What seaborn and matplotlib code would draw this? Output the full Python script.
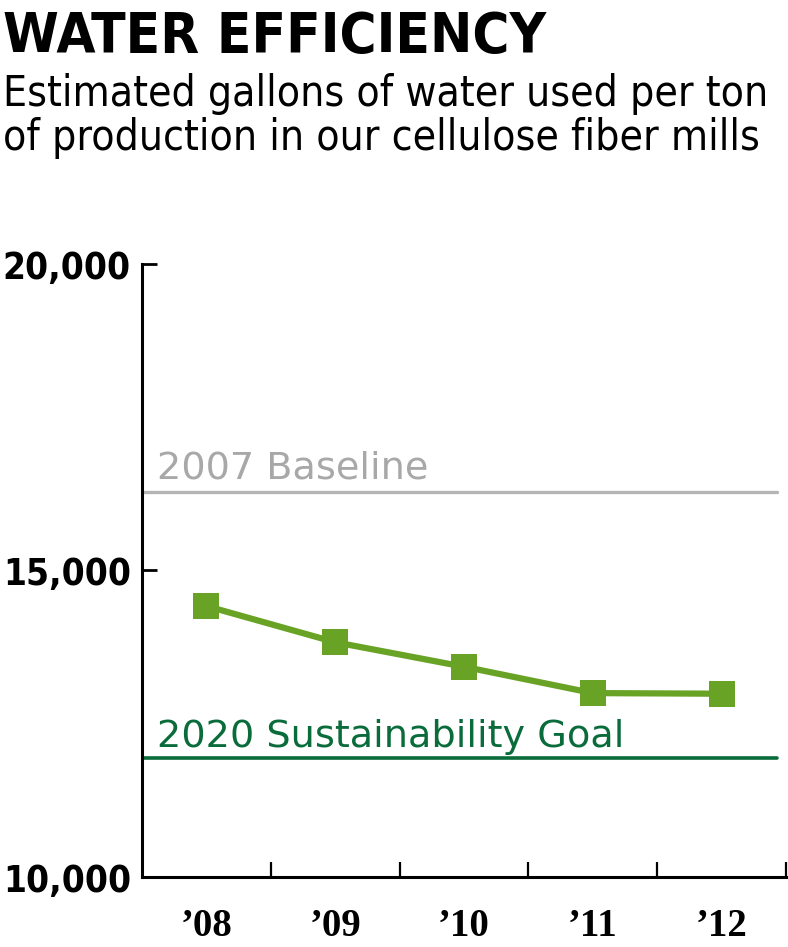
import numpy as np
import pandas as pd
import matplotlib
matplotlib.use("Agg")
import matplotlib.pyplot as plt
import seaborn as sns

# Chart values
years = ["\u201908", "\u201909", "\u201910", "\u201911", "\u201912"]
gallons_per_ton = [14420, 13830, 13430, 13000, 12990]
baseline_2007 = 16280
goal_2020 = 11940
y_ticks = [10000, 15000, 20000]

sns.set_style("white")
plt.rcParams['font.family'] = ['DejaVu Sans']
plt.rcParams['font.stretch'] = 'condensed'
plt.rcParams['text.color'] = 'black'

df = pd.DataFrame({"pos": np.arange(len(years)), "gallons": gallons_per_ton})

fig = plt.figure(figsize=(7.88, 9.47), dpi=100)
ax = fig.add_axes([142 / 788, 70 / 947, 644 / 788, 613 / 947])

green = "#69a325"
dark_green = "#0a6b3b"
grey_line = "#b5b5b5"
grey_text = "#a8a8a8"

sns.lineplot(data=df, x="pos", y="gallons", ax=ax, color=green, linewidth=4.5,
             marker="s", markersize=19, markeredgewidth=0, markerfacecolor=green)

# reference lines
line_end = (777 - 142) / 644
ax.axhline(baseline_2007, xmin=0, xmax=line_end, color=grey_line, linewidth=2.4)
ax.axhline(goal_2020, xmin=0, xmax=line_end, color=dark_green, linewidth=2.6)
ax.annotate("2007 Baseline", xy=(-0.5, baseline_2007), xytext=(11, 10),
            textcoords="offset points", color=grey_text, fontsize=27.5,
            fontstretch="normal", va="baseline", ha="left")
ax.annotate("2020 Sustainability Goal", xy=(-0.5, goal_2020), xytext=(11, 8),
            textcoords="offset points", color=dark_green, fontsize=27.5,
            fontstretch="normal", va="baseline", ha="left")

ax.set_xlim(-0.5, len(years) - 0.5)
ax.set_ylim(10000, 20000)

# axes styling
for s in ["top", "right"]:
    ax.spines[s].set_visible(False)
for s in ["left", "bottom"]:
    ax.spines[s].set_linewidth(2.2)
    ax.spines[s].set_color("black")

ax.set_xticks(np.arange(len(years)))
ax.set_xticklabels(years, fontsize=28, fontweight="bold", family="Liberation Serif",
                   fontstretch="normal", color="black")
ax.set_xticks(np.arange(len(years)) + 0.5, minor=True)
ax.tick_params(axis="x", which="major", bottom=True, length=0, pad=22)
ax.tick_params(axis="x", which="minor", bottom=True, direction="in", length=11,
               width=1.6, color="black")

ax.set_yticks(y_ticks)
ax.set_yticklabels([f"{v:,}" for v in y_ticks], fontsize=26.5, fontweight="bold",
                   color="black")
ax.tick_params(axis="y", left=True, direction="in", length=11, width=2.0,
               color="black", pad=8)

ax.set_xlabel("")
ax.set_ylabel("")
ax.grid(False)

# headline
fig.text(0.004, 1 - 52 / 947, "WATER EFFICIENCY", fontsize=40.5, fontweight="bold",
         ha="left", va="baseline")
fig.text(0.004, 1 - 106 / 947, "Estimated gallons of water used per ton",
         fontsize=30.5, ha="left", va="baseline")
fig.text(0.004, 1 - 150 / 947, "of production in our cellulose fiber mills",
         fontsize=30.5, ha="left", va="baseline")

fig.savefig("out.png", dpi=100)
